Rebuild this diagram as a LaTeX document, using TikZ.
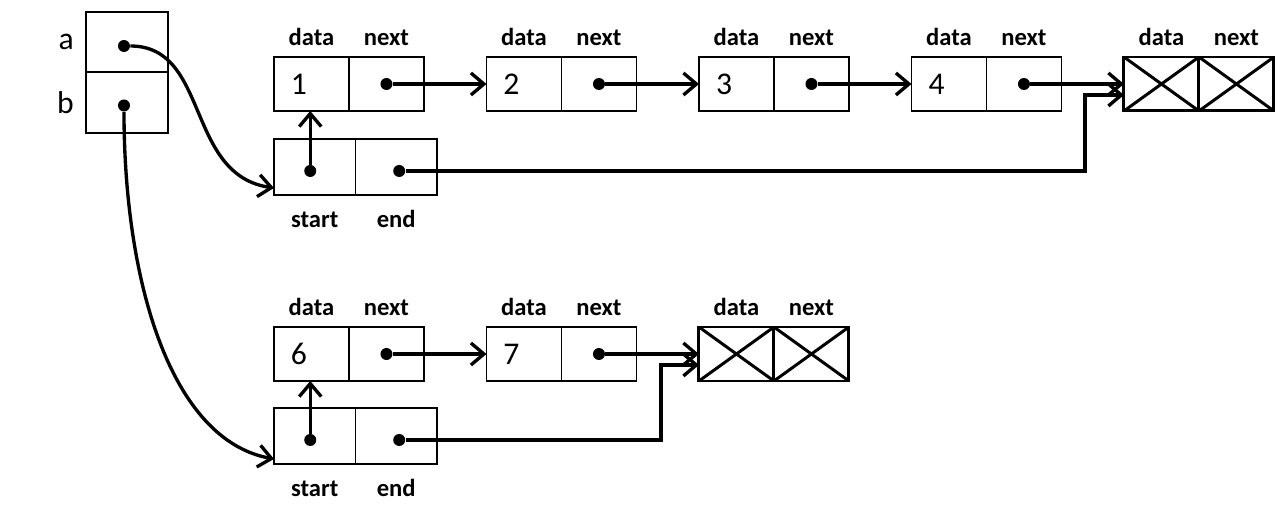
\documentclass[tikz,border=0pt]{standalone}
\usepackage{fontspec}
\setmainfont{Carlito}
\usetikzlibrary{positioning, arrows.meta}
\tikzstyle{cell} = [draw, rectangle, line width=1pt, outer sep=0pt,
    minimum height=1.08cm, minimum width=1.5cm,
    inner xsep=0.34cm, text width=0.82cm, align=left,
    font=\fontsize{18}{18}\selectfont]
\tikzstyle{nilcell} = [draw, rectangle, line width=1.7pt, outer sep=0pt,
    minimum height=1.08cm, minimum width=1.5cm, inner sep=0pt,
    path picture={\draw[line width=1.7pt]
        (path picture bounding box.north west) -- (path picture bounding box.south east)
        (path picture bounding box.south west) -- (path picture bounding box.north east);}]
\tikzstyle{tag} = [font=\bfseries\fontsize{14}{14}\selectfont,
    text height=0.32cm, text depth=0pt]
\tikzstyle{ptr} = [->, line width=1.9pt]
\tikzstyle{dot} = [circle, fill, inner sep=0pt, minimum size=0.24cm]

\begin{document}
\begin{tikzpicture}[x=0.02cm, y=-0.02cm, node distance=1.25cm,
        >={Straight Barb[length=2.6mm, width=4.4mm]}]
    \useasboundingbox (0,0) rectangle (1286,521);

        % variables a and b
        \node[
            cell,
            anchor=north west,
            minimum width=1.64cm,
            minimum height=1.2cm
        ](va) at (86,12) {};
        \node[
            cell,
            below=0pt of va,
            minimum width=1.64cm,
            minimum height=1.22cm
        ](vb) {};
        \node[left=0.12cm of va, font=\fontsize{18}{18}\selectfont](la){a};
        \node[left=0.12cm of vb, font=\fontsize{18}{18}\selectfont](lb){b};
        \node[dot](pa) at ([xshift=-0.06cm, yshift=-0.08cm]va.center) {};
        \node[dot](pb) at ([xshift=-0.06cm, yshift=-0.06cm]vb.center) {};

        % first list
        \foreach \v [count=\i from 0] in {1,2,3,4}{
            \node[cell, anchor=north west](d\v) at (274+212.5*\i,57) {\v};
            \node[cell, right=0pt of d\v](n\v){};
            \node[tag, above=0.11cm of d\v](td\v){data};
            \node[tag, above=0.11cm of n\v](tn\v){next};
            \node[dot](p\v) at (n\v) {};
        }
        \node[nilcell, right=of n4](nd1){};
        \node[nilcell, right=0pt of nd1](nn1){};
        \node[tag, above=0.11cm of nd1](tnd1){data};
        \node[tag, above=0.11cm of nn1](tnn1){next};

        \node[
            cell,
            below=0.56cm of d1.south west,
            anchor=north west,
            minimum width=1.63cm,
            minimum height=1.12cm
        ](s1){};
        \node[
            cell,
            right=0pt of s1,
            minimum width=1.63cm,
            minimum height=1.12cm
        ](e1){};
        \node[tag, below=0.2cm of s1](ts1){start};
        \node[tag, below=0.2cm of e1](te1){end};
        \node[dot](ps1) at ([xshift=-0.09cm, yshift=-0.08cm]s1.center) {};
        \node[dot](pe1) at ([xshift=0.06cm, yshift=-0.08cm]e1.center) {};

        \foreach \a/\b in {1/2, 2/3, 3/4}
            \draw[ptr] (p\a) -- (d\b);
        \draw[ptr] (p4) -- (nd1);
        \draw[ptr] (ps1) -- (ps1 |- d1.south);
        \draw[ptr] (pe1) -| ([xshift=-0.78cm, yshift=-0.22cm]nd1.west)
            -- ([yshift=-0.22cm]nd1.west);

        % second list
        \foreach \v [count=\i from 0] in {6,7}{
            \node[cell, anchor=north west](d\v) at (274+212.5*\i,327) {\v};
            \node[cell, right=0pt of d\v](n\v){};
            \node[tag, above=0.11cm of d\v](td\v){data};
            \node[tag, above=0.11cm of n\v](tn\v){next};
            \node[dot](p\v) at (n\v) {};
        }
        \node[nilcell, right=of n7](nd2){};
        \node[nilcell, right=0pt of nd2](nn2){};
        \node[tag, above=0.11cm of nd2](tnd2){data};
        \node[tag, above=0.11cm of nn2](tnn2){next};

        \node[
            cell,
            below=0.54cm of d6.south west,
            anchor=north west,
            minimum width=1.63cm,
            minimum height=1.12cm
        ](s2){};
        \node[
            cell,
            right=0pt of s2,
            minimum width=1.63cm,
            minimum height=1.12cm
        ](e2){};
        \node[tag, below=0.2cm of s2](ts2){start};
        \node[tag, below=0.2cm of e2](te2){end};
        \node[dot](ps2) at ([xshift=-0.09cm, yshift=-0.08cm]s2.center) {};
        \node[dot](pe2) at ([xshift=0.06cm, yshift=-0.08cm]e2.center) {};

        \draw[ptr] (p6) -- (d7);
        \draw[ptr] (p7) -- (nd2);
        \draw[ptr] (ps2) -- (ps2 |- d6.south);
        \draw[ptr] (pe2) -| ([xshift=-0.76cm, yshift=-0.22cm]nd2.west)
            -- ([yshift=-0.22cm]nd2.west);

        % a and b point to the two lists
        \draw[ptr] (pa) .. controls (210,46) and (185,175) .. ([yshift=0.14cm]s1.south west);
        \draw[ptr] (pb) .. controls (124,280) and (170,440) .. ([yshift=0.1cm]s2.south west);
    \end{tikzpicture}
\end{document}
